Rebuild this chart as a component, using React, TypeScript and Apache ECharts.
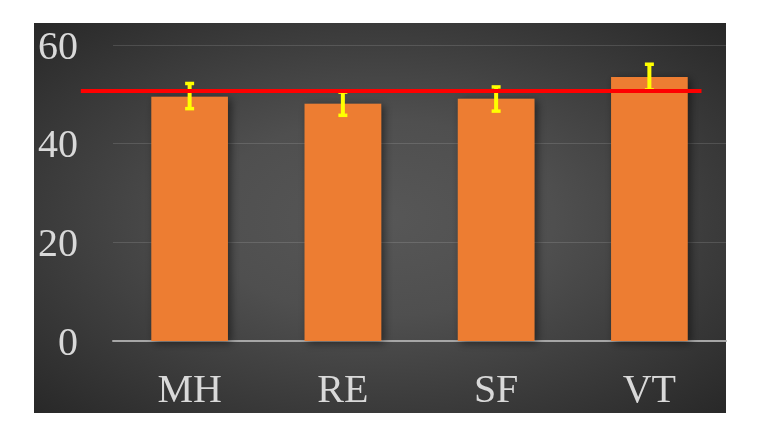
import React, { useEffect, useRef } from "react";
import * as echarts from "echarts";

const categories = ["MH", "RE", "SF", "VT"];
const means = [49.5, 48.1, 49.1, 53.5];
const errLow = [47.1, 45.75, 46.6, 50.9];
const errHigh = [52.2, 50.45, 51.5, 56.1];
const refValue = 50.7;
const refSpan = [-0.71, 3.34];
const yMin = 0;
const yMax = 60;
const yStep = 20;

export default function App() {
  const ref = useRef<HTMLDivElement>(null);
  useEffect(() => {
    const chart = echarts.init(ref.current!, null, { renderer: "svg" });
    const font = "'Liberation Serif', 'Times New Roman', serif";
    chart.setOption({
      animation: false,
      graphic: [
        {
          type: "rect",
          silent: true,
          z: -10,
          shape: { x: 34, y: 23, width: 692, height: 390 },
          style: {
            fill: new echarts.graphic.RadialGradient(0.5, 0.5, 0.72, [
              { offset: 0, color: "#575757" },
              { offset: 0.35, color: "#4f4f4f" },
              { offset: 1, color: "#272727" },
            ]),
          },
        },
      ],
      grid: { left: 113, right: 52, top: 45, bottom: 89 },
      xAxis: [
        {
          type: "category",
          data: categories,
          axisLine: { lineStyle: { color: "#A6A6A6", width: 2 } },
          axisTick: { show: false },
          axisLabel: { color: "#D9D9D9", fontFamily: font, fontSize: 40, margin: 27 },
        },
        { type: "value", min: -0.5, max: 3.5, show: false },
      ],
      yAxis: {
        type: "value",
        min: yMin,
        max: yMax,
        interval: yStep,
        axisLine: { show: false },
        axisTick: { show: false },
        splitLine: { lineStyle: { color: "rgba(255,255,255,0.13)", width: 1 } },
        axisLabel: { color: "#D9D9D9", fontFamily: font, fontSize: 40, margin: 35 },
      },
      series: [
        {
          type: "bar",
          data: means,
          barWidth: "50%",
          z: 2,
          itemStyle: {
            color: "#ED7D31",
            shadowBlur: 8,
            shadowColor: "rgba(0,0,0,0.5)",
            shadowOffsetX: 3,
            shadowOffsetY: 2,
          },
        },
        {
          type: "custom",
          z: 3,
          data: categories.map((c, i) => [i, errLow[i], errHigh[i]]),
          encode: { x: 0, y: [1, 2] },
          renderItem: (params: any, api: any) => {
            const i = api.value(0);
            const lo = api.coord([i, api.value(1)]);
            const hi = api.coord([i, api.value(2)]);
            const cw = 9;
            const ch = 3.5;
            return {
              type: "group",
              children: [
                {
                  type: "line",
                  shape: { x1: lo[0], y1: lo[1], x2: hi[0], y2: hi[1] },
                  style: { stroke: "#FFFF00", lineWidth: 4 },
                },
                {
                  type: "rect",
                  shape: { x: hi[0] - cw / 2, y: hi[1] - ch / 2, width: cw, height: ch },
                  style: { fill: "#FFFF00" },
                },
                {
                  type: "rect",
                  shape: { x: lo[0] - cw / 2, y: lo[1] - ch / 2, width: cw, height: ch },
                  style: { fill: "#FFFF00" },
                },
              ],
            };
          },
        },
        {
          type: "custom",
          xAxisIndex: 1,
          z: 4,
          clip: false,
          data: [[refSpan[0], refSpan[1], refValue]],
          encode: { x: [0, 1], y: 2 },
          renderItem: (params: any, api: any) => {
            const a = api.coord([api.value(0), api.value(2)]);
            const b = api.coord([api.value(1), api.value(2)]);
            return {
              type: "line",
              shape: { x1: a[0], y1: a[1], x2: b[0], y2: b[1] },
              style: { stroke: "#FF0000", lineWidth: 4 },
            };
          },
        },
      ],
    });
    return () => chart.dispose();
  }, []);
  return (
    <div
      ref={ref}
      style={{ position: "fixed", left: 0, top: 0, width: 778, height: 430 }}
    />
  );
}
